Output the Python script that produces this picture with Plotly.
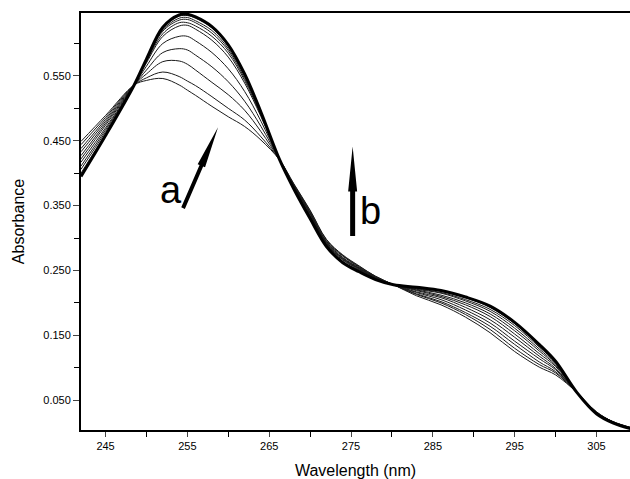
import plotly.graph_objects as go

# wavelength grid (nm)
wavelength = [242, 245, 248.5, 250, 252, 254, 255, 256, 258, 260, 262, 264, 266.3, 268, 270, 272,
              274, 276, 278, 280.2, 283, 286, 289, 292, 295, 298, 300, 302.6, 305, 307, 309.5]

# absorbance of successive scans, first -> last
scan_01 = [0.449, 0.489, 0.536, 0.543, 0.546, 0.536, 0.528, 0.520, 0.503, 0.487, 0.472, 0.451, 0.420, 0.384, 0.343, 0.298,
           0.274, 0.257, 0.241, 0.228, 0.211, 0.197, 0.178, 0.154, 0.125, 0.101, 0.089, 0.062, 0.032, 0.017, 0.007]
scan_02 = [0.444, 0.486, 0.536, 0.547, 0.556, 0.549, 0.542, 0.535, 0.518, 0.500, 0.482, 0.456, 0.420, 0.383, 0.342, 0.297,
           0.273, 0.256, 0.241, 0.228, 0.213, 0.200, 0.182, 0.159, 0.130, 0.105, 0.092, 0.062, 0.032, 0.017, 0.007]
scan_03 = [0.438, 0.483, 0.536, 0.553, 0.572, 0.573, 0.568, 0.559, 0.540, 0.521, 0.497, 0.464, 0.420, 0.382, 0.340, 0.295,
           0.272, 0.255, 0.240, 0.228, 0.214, 0.202, 0.185, 0.164, 0.136, 0.109, 0.094, 0.062, 0.031, 0.017, 0.006]
scan_04 = [0.433, 0.480, 0.536, 0.559, 0.586, 0.592, 0.590, 0.582, 0.564, 0.541, 0.511, 0.472, 0.420, 0.382, 0.339, 0.294,
           0.270, 0.254, 0.240, 0.228, 0.216, 0.205, 0.189, 0.169, 0.141, 0.114, 0.097, 0.062, 0.031, 0.016, 0.006]
scan_05 = [0.427, 0.477, 0.536, 0.565, 0.600, 0.611, 0.611, 0.604, 0.586, 0.561, 0.526, 0.480, 0.420, 0.381, 0.338, 0.293,
           0.269, 0.253, 0.239, 0.228, 0.217, 0.208, 0.193, 0.174, 0.147, 0.118, 0.099, 0.062, 0.031, 0.016, 0.006]
scan_06 = [0.422, 0.474, 0.536, 0.570, 0.611, 0.627, 0.628, 0.622, 0.605, 0.579, 0.539, 0.487, 0.420, 0.380, 0.337, 0.292,
           0.268, 0.253, 0.239, 0.228, 0.219, 0.210, 0.197, 0.179, 0.152, 0.122, 0.102, 0.062, 0.030, 0.016, 0.006]
scan_07 = [0.417, 0.470, 0.536, 0.572, 0.615, 0.632, 0.632, 0.627, 0.611, 0.585, 0.543, 0.489, 0.420, 0.379, 0.335, 0.291,
           0.267, 0.252, 0.238, 0.228, 0.220, 0.212, 0.200, 0.183, 0.157, 0.126, 0.104, 0.062, 0.030, 0.016, 0.006]
scan_08 = [0.411, 0.467, 0.536, 0.573, 0.619, 0.636, 0.637, 0.632, 0.616, 0.589, 0.546, 0.491, 0.420, 0.378, 0.334, 0.290,
           0.266, 0.251, 0.238, 0.228, 0.221, 0.215, 0.203, 0.187, 0.161, 0.129, 0.106, 0.062, 0.030, 0.016, 0.005]
scan_09 = [0.406, 0.464, 0.536, 0.574, 0.621, 0.639, 0.640, 0.635, 0.620, 0.592, 0.549, 0.492, 0.420, 0.378, 0.333, 0.289,
           0.264, 0.250, 0.237, 0.228, 0.222, 0.216, 0.205, 0.190, 0.165, 0.132, 0.108, 0.062, 0.030, 0.015, 0.005]
scan_10 = [0.400, 0.461, 0.536, 0.575, 0.623, 0.642, 0.643, 0.639, 0.624, 0.596, 0.551, 0.493, 0.420, 0.377, 0.331, 0.288,
           0.263, 0.249, 0.237, 0.228, 0.223, 0.218, 0.208, 0.193, 0.168, 0.134, 0.109, 0.062, 0.029, 0.015, 0.005]
scan_11 = [0.395, 0.458, 0.536, 0.576, 0.625, 0.644, 0.645, 0.641, 0.626, 0.598, 0.553, 0.494, 0.420, 0.376, 0.330, 0.287,
           0.262, 0.248, 0.236, 0.228, 0.224, 0.219, 0.209, 0.195, 0.170, 0.136, 0.110, 0.062, 0.029, 0.015, 0.005]

thin_scans = [scan_01, scan_02, scan_03, scan_04, scan_05, scan_06, scan_07, scan_08, scan_09, scan_10]
final_scan = scan_11

FONT = 'Arial, Liberation Sans, sans-serif'

fig = go.Figure()
for scan in thin_scans:
    fig.add_trace(go.Scatter(x=wavelength, y=scan, mode='lines',
                             line=dict(color='#1a1a1a', width=1, shape='spline', smoothing=1),
                             showlegend=False, hoverinfo='skip'))
fig.add_trace(go.Scatter(x=wavelength, y=final_scan, mode='lines',
                         line=dict(color='black', width=3, shape='spline', smoothing=1),
                         showlegend=False, hoverinfo='skip'))

# arrows drawn as filled pixel paths anchored at their tips
arrow_a = 'M0,0 L-13,-40.2 L-14.9,-39.4 L-33.2,-81.8 L-36.8,-80.2 L-18.5,-37.8 L-20.4,-37 Z'
arrow_b = 'M0,0 L4.5,-45 L2.5,-45 L2.5,-89.3 L-2.5,-89.3 L-2.5,-45 L-4.5,-45 Z'
for (ax_, ay_, p) in [(258.75, 0.471, arrow_a), (275.2, 0.441, arrow_b)]:
    fig.add_shape(type='path', path=p, xref='x', yref='y',
                  xsizemode='pixel', ysizemode='pixel', xanchor=ax_, yanchor=ay_,
                  fillcolor='black', line=dict(width=0))

for txt, x, y in [('a', 253.0, 0.374), ('b', 277.4, 0.342)]:
    fig.add_annotation(x=x, y=y, xref='x', yref='y', text=txt, showarrow=False,
                       font=dict(family=FONT, size=38, color='black'))

fig.update_layout(
    width=630, height=479,
    margin=dict(l=81, r=0, t=13, b=49, autoexpand=False),
    paper_bgcolor='white', plot_bgcolor='white',
    font=dict(family=FONT, color='black'),
    xaxis=dict(range=[242, 309.1], tick0=245, dtick=10, ticks='outside', ticklen=5, tickwidth=1,
               tickfont=dict(size=11), showgrid=False, zeroline=False,
               showline=True, linecolor='black', linewidth=2, mirror=True,
               minor=dict(dtick=5, tick0=245, ticks='outside', ticklen=5, tickwidth=1, tickcolor='black'),
               title=dict(text='Wavelength (nm)', font=dict(size=16), standoff=16)),
    yaxis=dict(range=[0.004, 0.647], tick0=0.05, dtick=0.1, tickformat='.3f', ticks='outside',
               ticklen=6, tickwidth=1, tickfont=dict(size=11), showgrid=False, zeroline=False,
               showline=True, linecolor='black', linewidth=2,
               minor=dict(dtick=0.05, tick0=0.05, ticks='outside', ticklen=5, tickwidth=1, tickcolor='black'),
               title=dict(text='Absorbance', font=dict(size=16), standoff=15)),
)

fig.write_html('out.html', config={'displayModeBar': False},
               post_script="document.body.style.margin='0px';")
